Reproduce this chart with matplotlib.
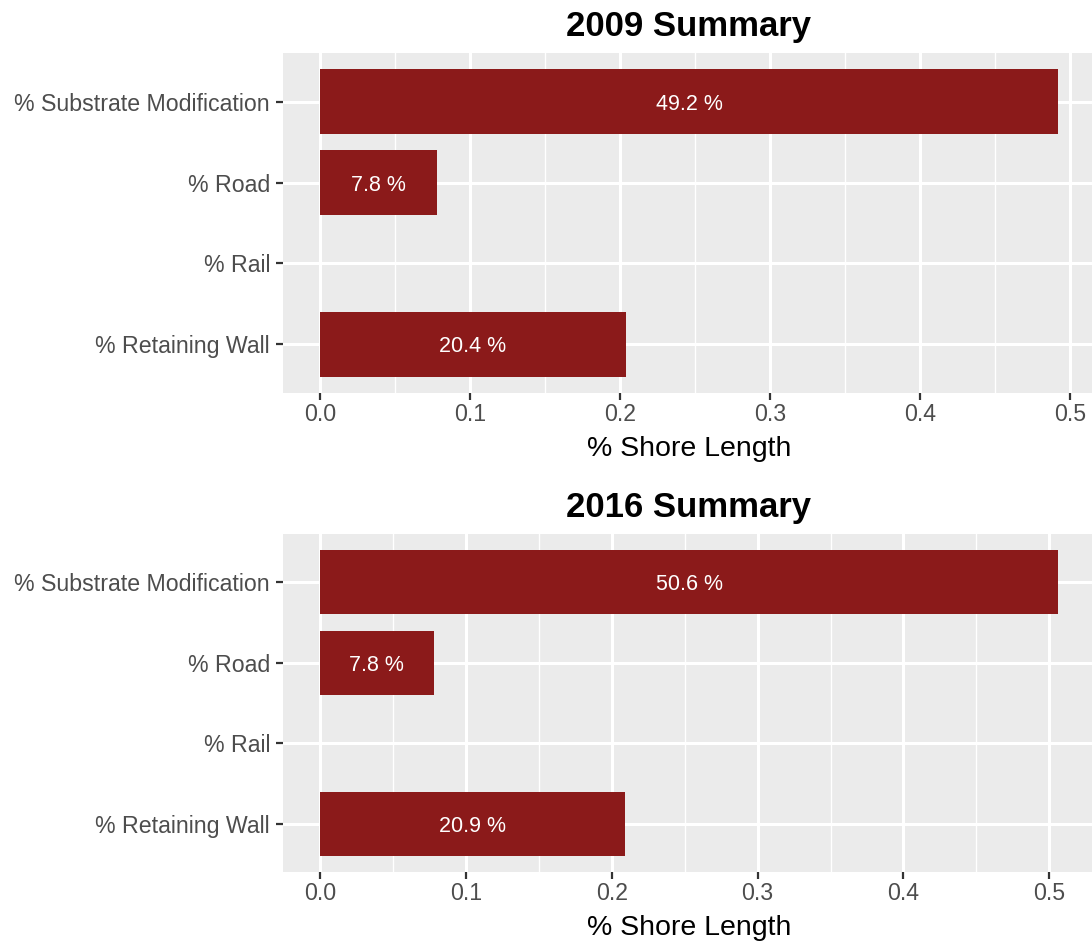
import matplotlib
matplotlib.use("Agg")
import matplotlib.pyplot as plt
from matplotlib.ticker import MultipleLocator

plt.rcParams['font.family'] = ['Liberation Sans', 'DejaVu Sans']

categories = ["% Substrate Modification", "% Road", "% Rail", "% Retaining Wall"]
values_2009 = [0.492, 0.078, 0.0, 0.204]
values_2016 = [0.506, 0.078, 0.0, 0.209]
titles = ["2009 Summary", "2016 Summary"]
xticks = [0.0, 0.1, 0.2, 0.3, 0.4, 0.5]
xlabel = "% Shore Length"

BAR = "#8B1A1A"
PANEL = "#EBEBEB"
W, H = 1092, 941

fig = plt.figure(figsize=(W / 100, H / 100), dpi=100)

panels = [
    (values_2009, titles[0], 53, 393),
    (values_2016, titles[1], 534, 872),
]

for vals, title, top, bottom in panels:
    left_px, width_px = 283, 812
    ax = fig.add_axes([left_px / W, 1 - bottom / H, width_px / W, (bottom - top) / H])
    ax.set_facecolor(PANEL)
    for s in ax.spines.values():
        s.set_visible(False)
    ypos = list(range(len(categories)))
    ax.barh(ypos, vals, height=0.8, color=BAR, zorder=3)
    for y, v in zip(ypos, vals):
        if v > 0:
            ax.text(v / 2, y, f"{v * 100:.1f} %", color="white", fontsize=15.5,
                    ha="center", va="center_baseline", zorder=4)
    vmax = max(vals)
    ax.set_xlim(-0.05 * vmax, 1.05 * vmax)
    ax.set_ylim(len(categories) - 0.4, -0.6)
    ax.set_xticks(xticks)
    ax.set_xticklabels([f"{t:.1f}" for t in xticks])
    ax.xaxis.set_minor_locator(MultipleLocator(0.05))
    ax.set_yticks(ypos)
    ax.set_yticklabels(categories)
    ax.grid(which="major", color="white", linewidth=2.2, zorder=1)
    ax.grid(which="minor", axis="x", color="white", linewidth=1.0, zorder=1)
    ax.set_axisbelow(True)
    ax.tick_params(axis="both", which="major", length=4.8, width=1.6, color="#333333",
                   labelcolor="#4D4D4D", labelsize=16.7)
    ax.tick_params(axis="y", pad=4.5)
    ax.tick_params(axis="x", pad=2.5)
    ax.tick_params(which="minor", length=0)
    ax.set_xlabel(xlabel, fontsize=20.5, color="black", labelpad=7)
    ax.set_title(title, fontsize=25, fontweight="bold", color="black", pad=12)

fig.savefig("out.png", dpi=100)
